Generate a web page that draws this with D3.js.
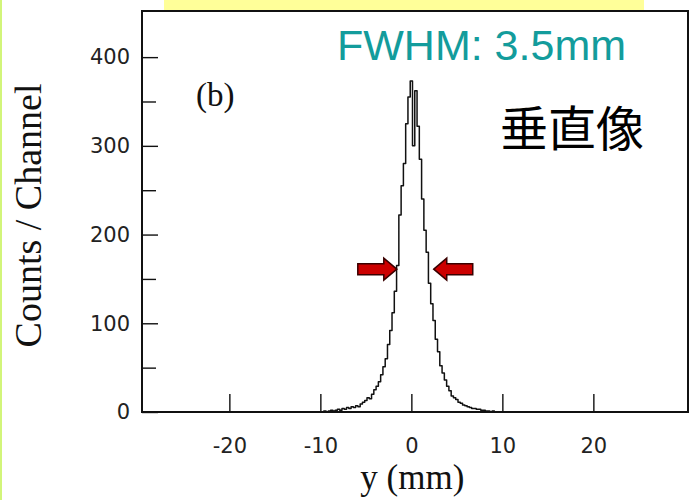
<!DOCTYPE html>
<html>
<head>
<meta charset="utf-8">
<script src="https://cdn.jsdelivr.net/npm/d3@7"></script>
<style>
  html, body { margin: 0; padding: 0; background: #fff; }
  svg { display: block; }
</style>
</head>
<body>
<script>
// Chart dimensions (matches the slide crop).
const width = 689;
const height = 500;
const margin = {top: 11, right: 1, bottom: 88, left: 142};

// -- data --
const xDomain = [-29.6, 30.4];
const yDomain = [0, 452];
const xTicks = [-20, -10, 0, 10, 20];
const yTicks = [0, 100, 200, 300, 400];
const yMinorTicks = [50, 150, 250, 350];

// channel position (mm) and counts per channel
const channelY = [
  -29.5, -12, -10, -9.75, -9.5, -9.25, -9, -8.75, -8.5, -8.25, -8, -7.75, -7.5, -7.25,
  -7, -6.75, -6.5, -6.25, -6, -5.75, -5.5, -5.25, -5, -4.75, -4.5, -4.25, -4, -3.75,
  -3.5, -3.25, -3, -2.75, -2.5, -2.25, -2, -1.75, -1.5, -1.25, -1, -0.75, -0.5, -0.25,
  0, 0.25, 0.5, 0.75, 1, 1.25, 1.5, 1.75, 2, 2.25, 2.5, 2.75, 3, 3.25, 3.5, 3.75,
  4, 4.25, 4.5, 4.75, 5, 5.25, 5.5, 5.75, 6, 6.25, 6.5, 6.75, 7, 7.25, 7.5, 7.75,
  8, 8.25, 8.5, 8.75, 9, 9.25, 9.5, 12, 30.3
];
const channelCounts = [
  0, 0, 0, 0, 1, 0, 1, 2, 1, 2, 3, 2, 4, 3,
  5, 4, 6, 5, 7, 6, 9, 11, 13, 16, 15, 20, 25, 29,
  34, 42, 51, 60, 76, 92, 112, 136, 165, 222, 255, 280, 325, 355,
  373, 300, 362, 322, 285, 240, 205, 180, 145, 122, 103, 82, 68, 52, 44, 36,
  29, 24, 18, 16, 14, 11, 10, 8, 7, 6, 5, 4, 4, 3, 3, 2,
  2, 1, 1, 0, 1, 0, 0, 0, 0
];

// FWHM markers (mm, counts) - arrows point at the half-max crossing
const arrowLeft = {y: -1.6, count: 161};
const arrowRight = {y: 2.35, count: 161};

const svg = d3.select("body").append("svg")
  .attr("width", width)
  .attr("height", height);

// slide decorations: green left edge and yellow title bar
svg.append("rect").attr("x", 0).attr("y", 0).attr("width", 2).attr("height", height).attr("fill", "#d2f57a");
svg.append("rect").attr("x", 164).attr("y", 0).attr("width", 480).attr("height", 10).attr("fill", "#ffff99");

const x = d3.scaleLinear().domain(xDomain).range([margin.left, width - margin.right]);
const y = d3.scaleLinear().domain(yDomain).range([height - margin.bottom, margin.top]);

const tickFont = "'DejaVu Sans', Verdana, sans-serif";
const serif = "'Liberation Serif', 'Times New Roman', serif";
const plainFormat = d => String(d); // plain hyphen minus, like the scan

// y axis: inward ticks, labels outside
const gy = svg.append("g")
  .attr("transform", `translate(${margin.left},0)`)
  .call(d3.axisLeft(y).tickValues(yTicks).tickFormat(plainFormat).tickSize(-16).tickPadding(12));
svg.append("g")
  .attr("transform", `translate(${margin.left},0)`)
  .call(d3.axisLeft(y).tickValues(yMinorTicks).tickSize(-14).tickFormat(""))
  .call(g => g.select(".domain").remove());

// x axis: upward ticks
const gx = svg.append("g")
  .attr("transform", `translate(0,${height - margin.bottom})`)
  .call(d3.axisBottom(x).tickValues(xTicks).tickFormat(plainFormat).tickSize(-18).tickPadding(26));

[gx, gy].forEach(g => {
  g.select(".domain").remove();
  g.selectAll("text")
    .attr("font-family", tickFont)
    .attr("font-size", "21px")
    .attr("fill", "#222");
});
svg.selectAll(".tick line").attr("stroke", "#111").attr("stroke-width", 1.4);

// frame
svg.append("rect")
  .attr("x", margin.left)
  .attr("y", margin.top)
  .attr("width", width - margin.right - margin.left)
  .attr("height", height - margin.bottom - margin.top)
  .attr("fill", "none")
  .attr("stroke", "#111")
  .attr("stroke-width", 2);

// the histogram trace
const points = channelY.map((v, i) => [v, channelCounts[i]]);
svg.append("path")
  .datum(points)
  .attr("fill", "none")
  .attr("stroke", "#111")
  .attr("stroke-width", 1.5)
  .attr("stroke-linejoin", "round")
  .attr("d", d3.line()
    .x(d => x(d[0]))
    .y(d => y(d[1]))
    .curve(d3.curveStep));

// red FWHM arrows (shape in px, anchored via scales)
function arrow(tipX, cy, dir) {
  const len = 39, shaft = 11, head = 22, headLen = 13;
  const pts = [
    [0, 0], [-headLen, -head / 2], [-headLen, -shaft / 2], [-len, -shaft / 2],
    [-len, shaft / 2], [-headLen, shaft / 2], [-headLen, head / 2]
  ].map(([a, b]) => [tipX + dir * a, cy + b]);
  svg.append("path")
    .attr("d", "M" + pts.join("L") + "Z")
    .attr("fill", "#cc0000")
    .attr("stroke", "#3a0000")
    .attr("stroke-width", 1.5)
    .attr("stroke-linejoin", "miter");
}
arrow(x(arrowLeft.y), y(arrowLeft.count), 1);
arrow(x(arrowRight.y) + 1, y(arrowRight.count), -1);

// labels
svg.append("text")
  .attr("transform", `translate(41,${(margin.top + height - margin.bottom) / 2 + 4}) rotate(-90)`)
  .attr("text-anchor", "middle")
  .attr("font-family", serif)
  .attr("font-size", "38px")
  .attr("fill", "#111")
  .text("Counts / Channel");

svg.append("text")
  .attr("x", x(0) + 1)
  .attr("y", 489)
  .attr("text-anchor", "middle")
  .attr("font-family", serif)
  .attr("font-size", "35px")
  .attr("fill", "#111")
  .text("y (mm)");

svg.append("text")
  .attr("x", 196)
  .attr("y", 106)
  .attr("font-family", serif)
  .attr("font-size", "33px")
  .attr("fill", "#111")
  .text("(b)");

svg.append("text")
  .attr("x", 337)
  .attr("y", 60)
  .attr("font-family", "'Liberation Sans', Arial, sans-serif")
  .attr("font-size", "43px")
  .attr("fill", "#139c9c")
  .text("FWHM: 3.5mm");

svg.append("text")
  .attr("x", 500)
  .attr("y", 146)
  .attr("font-family", "'Noto Sans CJK JP', sans-serif")
  .attr("font-size", "48px")
  .attr("fill", "#000")
  .text("垂直像");
</script>
</body>
</html>
